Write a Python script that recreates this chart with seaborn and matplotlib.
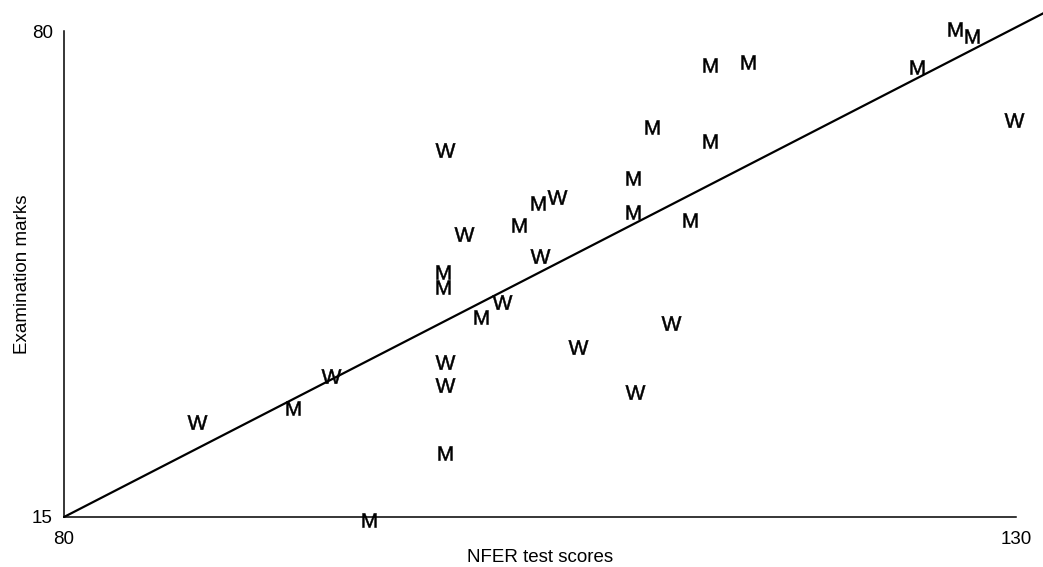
import matplotlib
matplotlib.use("Agg")
import matplotlib.pyplot as plt
import seaborn as sns
import pandas as pd

# NFER test score and examination mark for each pupil, with sex (M = man, W = woman)
nfer_scores = [87, 92, 94, 96, 100, 101, 103.9, 104.9, 105.9, 99.9, 99.9, 105, 103, 101.9,
               107, 100, 100, 100, 113.9, 115.9, 110.9, 113.9, 109.9, 109.9, 112.9, 111.9,
               110, 126.8, 127.7, 124.8, 129.9]
exam_marks = [27.7, 29.6, 33.9, 14.6, 64.1, 52.8, 54.1, 57.0, 57.8, 47.8, 45.8, 49.9, 43.8,
              41.8, 37.7, 35.7, 32.7, 23.6, 75.5, 75.9, 67.2, 65.3, 60.3, 55.8, 54.7, 40.9,
              31.7, 80.3, 79.3, 75.2, 68.1]
sex = ["W", "M", "W", "M", "W", "W", "M", "M", "W", "M", "M", "W", "W", "M",
       "W", "W", "W", "M", "M", "M", "M", "M", "M", "M", "M", "W",
       "W", "M", "M", "M", "W"]

# fitted line: marks = intercept + slope * (score - 80)
fit_intercept = 15
fit_slope = 1.31
fit_x = [80, 131.45]

x_ticks = [80, 130]
y_ticks = [15, 80]

sns.set_theme(style="white")
plt.rcParams["font.family"] = ["Liberation Sans", "DejaVu Sans"]
plt.rcParams["mathtext.fontset"] = "custom"
plt.rcParams["mathtext.rm"] = "Liberation Sans"

df = pd.DataFrame({"score": nfer_scores, "marks": exam_marks, "sex": sex})
fit = pd.DataFrame({"score": fit_x,
                    "marks": [fit_intercept + fit_slope * (v - 80) for v in fit_x]})

fig = plt.figure(figsize=(10.43, 5.67), dpi=100)
ax = fig.add_axes([0.0614, 0.0882, 0.9128, 0.8571])

sns.lineplot(data=fit, x="score", y="marks", color="black", linewidth=1.6, ax=ax)
for ln in ax.lines:
    ln.set_clip_on(False)

# each pupil is plotted as the letter of their sex
letter_sizes = {"M": 105, "W": 200}
for s_key in ["M", "W"]:
    sub = df[df["sex"] == s_key]
    sns.scatterplot(data=sub, x="score", y="marks",
                    marker=r"$\mathrm{" + s_key + "}$", s=letter_sizes[s_key],
                    color="black", edgecolor="black", linewidth=0.35,
                    legend=False, ax=ax, clip_on=False)

ax.set_xlim(80, 130)
ax.set_ylim(15, 80)
ax.set_xticks(x_ticks)
ax.set_yticks(y_ticks)
ax.tick_params(axis="both", length=0, labelsize=13.5, colors="black")
ax.tick_params(axis="y", pad=8)
ax.tick_params(axis="x", pad=10)

for side in ["top", "right"]:
    ax.spines[side].set_visible(False)
for side in ["left", "bottom"]:
    ax.spines[side].set_color("black")
    ax.spines[side].set_linewidth(1.1)

ax.set_xlabel("NFER test scores", fontsize=13.5, labelpad=1, color="black")
ax.set_ylabel("Examination marks", fontsize=13.5, labelpad=1, color="black")

fig.savefig("out.png", dpi=100)
